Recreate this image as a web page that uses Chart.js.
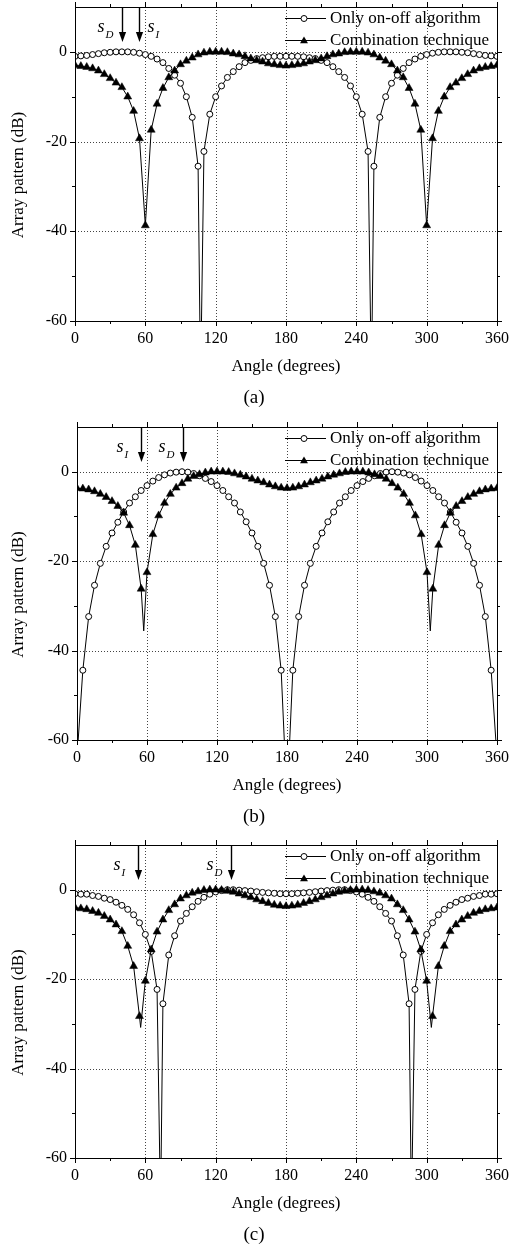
<!DOCTYPE html>
<html>
<head>
<meta charset="utf-8">
<script src="https://cdn.jsdelivr.net/npm/chart.js@4.4.1/dist/chart.umd.min.js"></script>
<style>
  body { margin: 0; background: #fff; width: 509px; height: 1246px; position: relative; overflow: hidden; }
  .panel { position: absolute; left: 0; width: 509px; }
</style>
</head>
<body>
<div class="panel" style="top:0;height:415px"><canvas id="pa"></canvas></div>
<div class="panel" style="top:415px;height:415px"><canvas id="pb"></canvas></div>
<div class="panel" style="top:830px;height:416px"><canvas id="pc"></canvas></div>
<script>
// angles where the markers sit (degrees)
const ANGLES = [0,5,10,15,20,25,30,35,40,45,50,55,60,65,70,75,80,85,90,95,100,105,110,115,120,125,130,135,140,145,150,155,160,165,170,175,180,
  185,190,195,200,205,210,215,220,225,230,235,240,245,250,255,260,265,270,275,280,285,290,295,300,305,310,315,320,325,330,335,340,345,350,355,360];

const X_TICKS = [0, 60, 120, 180, 240, 300, 360];
const X_MINOR = [30, 90, 150, 210, 270, 330];
const Y_TICKS = [-60, -40, -20, 0];
const Y_MINOR = [-50, -30, -10];
const X_GRID = [60, 120, 180, 240, 300];
const Y_GRID = [-40, -20, 0];
const SERIES = ['Only on-off algorithm', 'Combination technique'];
const X_TITLE = 'Angle (degrees)';
const Y_TITLE = 'Array pattern (dB)';

// (a)
const A_ONOFF = [-1.0,-0.9,-0.8,-0.6,-0.4,-0.2,-0.1,0,0,0,-0.1,-0.3,-0.6,-1.0,-1.6,-2.4,-3.7,-5.2,-7.0,-10.0,-14.6,-25.5,-22.2,-13.9,-10.0,-7.6,-5.7,-4.4,-3.3,-2.4,-1.9,-1.5,-1.3,-1.1,-1.0,-1.0,-1.0,
  -1.0,-1.0,-1.1,-1.3,-1.5,-1.9,-2.4,-3.3,-4.4,-5.7,-7.6,-10.0,-13.9,-22.2,-25.5,-14.6,-10.0,-7.0,-5.2,-3.7,-2.4,-1.6,-1.0,-0.6,-0.3,-0.1,0,0,0,-0.1,-0.2,-0.4,-0.6,-0.8,-0.9,-1.0];
const A_COMB = [-3.0,-3.2,-3.4,-3.7,-4.2,-5.0,-5.9,-6.9,-7.9,-10.0,-13.2,-19.3,-38.7,-17.4,-11.6,-8.1,-5.7,-4.2,-2.8,-2.0,-1.3,-0.6,-0.2,0,0,0,-0.1,-0.4,-0.6,-1.0,-1.5,-1.9,-2.2,-2.6,-2.8,-3.0,-3.1,
  -3.0,-2.8,-2.6,-2.2,-1.9,-1.5,-1.0,-0.6,-0.4,-0.1,0,0,0,-0.2,-0.6,-1.3,-2.0,-2.8,-4.2,-5.7,-8.1,-11.6,-17.4,-38.7,-19.3,-13.2,-10.0,-7.9,-6.9,-5.9,-5.0,-4.2,-3.7,-3.4,-3.2,-3.0];
const A_ONOFF_NULL_ANG = [106.6, 107.2, 107.8, 252.2, 252.8, 253.4];
const A_ONOFF_NULL_DB = [-62, -120, -62, -62, -120, -62];
const A_COMB_NULL_ANG = [];
const A_COMB_NULL_DB = [];
const A_ARROW_ANG = [40, 55];
const A_ARROW_SUB = ['D', 'I'];

// (b)
const B_ONOFF = [null,-44.4,-32.4,-25.4,-20.5,-16.7,-13.7,-11.3,-9.0,-7.0,-5.6,-4.2,-3.1,-2.1,-1.3,-0.7,-0.3,-0.1,0,-0.1,-0.4,-0.9,-1.5,-2.2,-3.1,-4.2,-5.6,-7.0,-9.0,-11.2,-13.7,-16.7,-20.5,-25.4,-32.4,-44.4,null,
  -44.4,-32.4,-25.4,-20.5,-16.7,-13.7,-11.2,-9.0,-7.0,-5.6,-4.2,-3.1,-2.2,-1.5,-0.9,-0.4,-0.1,0,-0.1,-0.3,-0.7,-1.3,-2.1,-3.1,-4.2,-5.6,-7.0,-9.0,-11.3,-13.7,-16.7,-20.5,-25.4,-32.4,-44.4,null];
const B_COMB = [-3.7,-3.8,-4.0,-4.4,-5.0,-5.7,-6.6,-7.7,-9.2,-12.0,-16.4,-26.2,-22.5,-14.0,-9.8,-7.0,-5.0,-3.6,-2.6,-1.6,-1.0,-0.6,-0.2,0,0,0,-0.1,-0.4,-0.7,-1.1,-1.6,-2.0,-2.4,-2.9,-3.3,-3.6,-3.7,
  -3.6,-3.3,-2.9,-2.4,-2.0,-1.6,-1.1,-0.7,-0.4,-0.1,0,0,0,-0.2,-0.6,-1.0,-1.6,-2.6,-3.6,-5.0,-7.0,-9.8,-14.0,-22.5,-26.2,-16.4,-12.0,-9.2,-7.7,-6.6,-5.7,-5.0,-4.4,-4.0,-3.8,-3.7];
const B_ONOFF_NULL_ANG = [0, 0.5, 178, 180, 182, 359.5, 360];
const B_ONOFF_NULL_DB = [-120, -62, -62, -120, -62, -62, -120];
const B_COMB_NULL_ANG = [57.2, 302.8];
const B_COMB_NULL_DB = [-35.6, -35.6];
const B_ARROW_ANG = [54.5, 91];
const B_ARROW_SUB = ['I', 'D'];

// (c)
const C_ONOFF = [-0.9,-1.0,-1.0,-1.3,-1.5,-1.9,-2.2,-2.8,-3.5,-4.4,-5.6,-7.4,-10.0,-13.8,-22.3,-25.5,-14.6,-10.3,-7.0,-5.3,-3.8,-2.6,-1.7,-1.0,-0.5,-0.2,0,0,-0.1,-0.2,-0.3,-0.45,-0.6,-0.7,-0.8,-0.9,-0.9,
  -0.9,-0.8,-0.7,-0.6,-0.45,-0.3,-0.2,-0.1,0,0,-0.2,-0.5,-1.0,-1.7,-2.6,-3.8,-5.3,-7.0,-10.3,-14.6,-25.5,-22.3,-13.8,-10.0,-7.4,-5.6,-4.4,-3.5,-2.8,-2.2,-1.9,-1.5,-1.3,-1.0,-1.0,-0.9];
const C_COMB = [-4.0,-4.2,-4.4,-4.8,-5.2,-5.9,-6.7,-7.8,-9.3,-12.6,-17.1,-28.3,-20.4,-13.4,-9.4,-6.7,-4.6,-3.3,-2.0,-1.3,-0.7,-0.4,-0.1,0,0,-0.1,-0.3,-0.5,-0.9,-1.3,-1.7,-2.2,-2.6,-3.0,-3.4,-3.6,-3.7,
  -3.6,-3.4,-3.0,-2.6,-2.2,-1.7,-1.3,-0.9,-0.5,-0.3,-0.1,0,0,-0.1,-0.4,-0.7,-1.3,-2.0,-3.3,-4.6,-6.7,-9.4,-13.4,-20.4,-28.3,-17.1,-12.6,-9.3,-7.8,-6.7,-5.9,-5.2,-4.8,-4.4,-4.2,-4.0];
const C_ONOFF_NULL_ANG = [72.4, 72.9, 73.4, 286.6, 287.1, 287.6];
const C_ONOFF_NULL_DB = [-62, -120, -62, -62, -120, -62];
const C_COMB_NULL_ANG = [56, 304];
const C_COMB_NULL_DB = [-30.8, -30.8];
const C_ARROW_ANG = [53.4, 133];
const C_ARROW_SUB = ['I', 'D'];

const SERIF = '"Liberation Serif", "Times New Roman", serif';

// marker points + extra points where the curve dives into a null
function buildPoints(vals, nullAng, nullDb) {
  const pts = [];
  ANGLES.forEach((a, i) => { if (vals[i] !== null) pts.push({ x: a, y: vals[i], m: true }); });
  nullAng.forEach((a, i) => pts.push({ x: a, y: nullDb[i], m: false }));
  pts.sort((p, q) => p.x - q.x);
  return pts;
}

function drawTri(ctx, x, y, r) {
  ctx.beginPath();
  ctx.moveTo(x, y - r);
  ctx.lineTo(x + Math.sin(2 * Math.PI / 3) * r, y + r / 2);
  ctx.lineTo(x - Math.sin(2 * Math.PI / 3) * r, y + r / 2);
  ctx.closePath();
  ctx.fill();
}

const deco = {
  id: 'deco',
  beforeDatasetsDraw(chart, args, o) {
    const { ctx, chartArea: ca, scales: { x, y } } = chart;
    ctx.save();
    ctx.strokeStyle = '#444';
    ctx.lineWidth = 1;
    ctx.setLineDash([1, 2]);
    ctx.beginPath();
    X_GRID.forEach(v => { const px = Math.round(x.getPixelForValue(v)) + 0.5; ctx.moveTo(px, ca.top); ctx.lineTo(px, ca.bottom); });
    Y_GRID.forEach(v => { const py = Math.round(y.getPixelForValue(v)) + 0.5; ctx.moveTo(ca.left, py); ctx.lineTo(ca.right, py); });
    ctx.stroke();
    ctx.restore();
  },
  afterDatasetsDraw(chart, args, o) {
    const { ctx, chartArea: ca, scales: { x, y } } = chart;
    ctx.save();
    ctx.strokeStyle = '#000';
    ctx.fillStyle = '#000';
    ctx.lineWidth = 1;
    // frame
    ctx.strokeRect(Math.round(ca.left) + 0.5, Math.round(ca.top) + 0.5, Math.round(ca.right - ca.left), Math.round(ca.bottom - ca.top));
    // outward ticks on all four sides
    ctx.beginPath();
    const xt = (list, len) => list.forEach(v => {
      const px = Math.round(x.getPixelForValue(v)) + 0.5;
      ctx.moveTo(px, ca.bottom); ctx.lineTo(px, ca.bottom + len);
      ctx.moveTo(px, ca.top); ctx.lineTo(px, ca.top - len);
    });
    const yt = (list, len) => list.forEach(v => {
      const py = Math.round(y.getPixelForValue(v)) + 0.5;
      ctx.moveTo(ca.left, py); ctx.lineTo(ca.left - len, py);
      ctx.moveTo(ca.right, py); ctx.lineTo(ca.right + len, py);
    });
    xt(X_TICKS, 5); xt(X_MINOR, 3); yt(Y_TICKS, 5); yt(Y_MINOR, 3);
    ctx.stroke();

    // legend
    ctx.font = '17px ' + SERIF;
    ctx.textBaseline = 'middle';
    ctx.textAlign = 'left';
    const rows = [ca.top + 11, ca.top + 33];
    rows.forEach((ry, i) => {
      ctx.beginPath(); ctx.moveTo(285, ry + 0.5); ctx.lineTo(326, ry + 0.5); ctx.stroke();
      if (i === 0) {
        ctx.beginPath(); ctx.arc(304, ry + 0.5, 3, 0, Math.PI * 2);
        ctx.fillStyle = '#fff'; ctx.fill(); ctx.stroke(); ctx.fillStyle = '#000';
      } else {
        drawTri(ctx, 304, ry + 1, 4.6);
      }
      ctx.fillText(SERIES[i], 330, ry + 1);
    });

    // arrows with s_D / s_I labels
    const tipY = ca.top + 35;
    o.arrows.forEach(ar => {
      const ax = Math.round(x.getPixelForValue(ar.ang)) + 0.5;
      ctx.lineWidth = 1.4;
      ctx.beginPath(); ctx.moveTo(ax, ca.top); ctx.lineTo(ax, tipY - 9); ctx.stroke();
      ctx.beginPath(); ctx.moveTo(ax - 3.6, tipY - 10); ctx.lineTo(ax + 3.6, tipY - 10); ctx.lineTo(ax, tipY); ctx.closePath(); ctx.fill();
      const lx = ar.side === 'left' ? ax - 25 : ax + 8;
      ctx.textBaseline = 'alphabetic';
      ctx.font = 'italic 18px ' + SERIF;
      ctx.fillText('s', lx, ca.top + 25);
      ctx.font = 'italic 11px ' + SERIF;
      ctx.fillText(ar.sub, lx + 8, ca.top + 31);
    });

    // axis titles and caption
    ctx.font = '17px ' + SERIF;
    ctx.textAlign = 'center';
    ctx.textBaseline = 'middle';
    ctx.fillText(X_TITLE, (ca.left + ca.right) / 2, ca.bottom + 46);
    ctx.save();
    ctx.translate(18.5, (ca.top + ca.bottom) / 2 + 11);
    ctx.rotate(-Math.PI / 2);
    ctx.fillText(Y_TITLE, 0, 0);
    ctx.restore();
    ctx.font = '19px ' + SERIF;
    ctx.fillText(o.caption, 254, ca.bottom + 77);
    ctx.restore();
  }
};

function makePanel(id, onoff, onoffNullAng, onoffNullDb, comb, combNullAng, combNullDb, arrowAng, arrowSub, sides, caption, box, H) {
  const arrows = arrowAng.map((a, i) => ({ ang: a, sub: arrowSub[i], side: sides[i] }));
  new Chart(document.getElementById(id), {
    type: 'line',
    data: {
      datasets: [
        {
          label: SERIES[1],
          data: buildPoints(comb, combNullAng, combNullDb),
          borderColor: '#000', borderWidth: 1, tension: 0,
          pointStyle: 'triangle',
          pointRadius: c => (c.raw && c.raw.m ? 4.6 : 0),
          pointBackgroundColor: '#000', pointBorderColor: '#000', pointBorderWidth: 0.5
        },
        {
          label: SERIES[0],
          data: buildPoints(onoff, onoffNullAng, onoffNullDb),
          borderColor: '#000', borderWidth: 1, tension: 0,
          pointStyle: 'circle',
          pointRadius: c => (c.raw && c.raw.m ? 3 : 0),
          pointBackgroundColor: '#fff', pointBorderColor: '#000', pointBorderWidth: 1
        }
      ]
    },
    options: {
      responsive: true,
      maintainAspectRatio: false,
      animation: false,
      devicePixelRatio: 1,
      layout: { padding: { top: box.top, right: 509 - box.right, left: 0, bottom: 0 } },
      plugins: {
        legend: { display: false },
        tooltip: { enabled: false },
        deco: { arrows: arrows, caption: caption }
      },
      scales: {
        x: {
          type: 'linear', min: 0, max: 360,
          afterBuildTicks: s => { s.ticks = X_TICKS.map(v => ({ value: v })); },
          afterFit: s => { s.height = H - box.bottom; s.paddingLeft = 0; s.paddingRight = 0; },
          grid: { display: false, drawTicks: false },
          border: { display: false },
          ticks: { color: '#000', padding: 8, maxRotation: 0, autoSkip: false, font: { family: SERIF, size: 16 } }
        },
        y: {
          min: -60, max: 10,
          afterBuildTicks: s => { s.ticks = Y_TICKS.map(v => ({ value: v })); },
          afterFit: s => { s.width = box.left; s.paddingTop = 0; s.paddingBottom = 0; },
          grid: { display: false, drawTicks: false },
          border: { display: false },
          ticks: { color: '#000', padding: 8, font: { family: SERIF, size: 16 } }
        }
      }
    },
    plugins: [deco]
  });
}

makePanel('pa', A_ONOFF, A_ONOFF_NULL_ANG, A_ONOFF_NULL_DB, A_COMB, A_COMB_NULL_ANG, A_COMB_NULL_DB,
  A_ARROW_ANG, A_ARROW_SUB, ['left', 'right'], '(a)', { top: 7, bottom: 321, left: 75, right: 497 }, 415);
makePanel('pb', B_ONOFF, B_ONOFF_NULL_ANG, B_ONOFF_NULL_DB, B_COMB, B_COMB_NULL_ANG, B_COMB_NULL_DB,
  B_ARROW_ANG, B_ARROW_SUB, ['left', 'left'], '(b)', { top: 12, bottom: 325, left: 77, right: 497 }, 415);
makePanel('pc', C_ONOFF, C_ONOFF_NULL_ANG, C_ONOFF_NULL_DB, C_COMB, C_COMB_NULL_ANG, C_COMB_NULL_DB,
  C_ARROW_ANG, C_ARROW_SUB, ['left', 'left'], '(c)', { top: 15, bottom: 328, left: 75, right: 497 }, 416);
</script>
</body>
</html>
